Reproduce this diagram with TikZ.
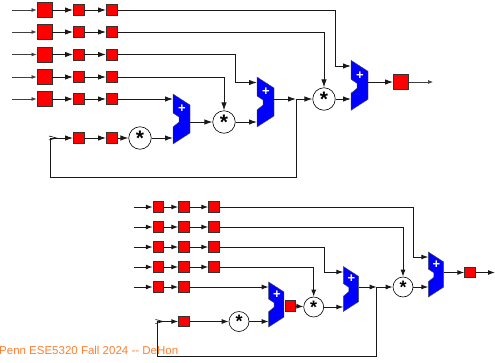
\documentclass[tikz,border=0pt]{standalone}
\usepackage{fontspec}
\setmainfont{Liberation Sans}
\usetikzlibrary{arrows.meta,calc}
\definecolor{penn}{RGB}{255,128,51}
\tikzset{
  x=1pt,y=-1pt,
  bigreg/.style={draw=black!80,line width=0.9pt,fill=red,minimum size=15pt,inner sep=0pt},
  reg/.style={draw=black!80,line width=0.9pt,fill=red,minimum size=11pt,inner sep=0pt},
  sreg/.style={draw=black!80,line width=0.9pt,fill=red,minimum size=10.5pt,inner sep=0pt},
  mult/.style={draw=black,line width=0.6pt,fill=white,circle,minimum size=22.5pt,inner sep=0pt,font=\fontsize{21}{21}\selectfont\bfseries},
  smult/.style={mult,minimum size=20pt,font=\fontsize{18}{18}\selectfont\bfseries},
  addbox/.style={inner sep=0pt,outer sep=0pt},
  wire/.style={draw=black!90,line width=1pt,-{Latex[length=8pt,width=5.5pt]}},
  swire/.style={wire,-{Latex[length=7pt,width=5pt]}},
  thin wire/.style={draw=black!75,line width=0.7pt,-{Latex[length=5pt,width=4pt]}},
  line/.style={draw=black!90,line width=1pt},
  chevron/.style={draw=black,line width=0.6pt},
}
\newcommand{\adder}[4]{% name, cx, cy, scale
  \node[addbox,minimum width=#4*17pt,minimum height=#4*50pt] (#1) at (#2,#3) {};
  \filldraw[shift={(#2,#3)},scale=#4,fill=blue,draw=black!70,line width=0.4pt]
    (-8.5,-25)--(8.5,-14)--(8.5,14)--(-8.5,25)--(-8.5,8)--(-2.5,3)--(-2.5,-2)--(-8.5,-6)--cycle;
  \node[text=white,inner sep=0pt,font=\fontsize{13}{13}\selectfont\bfseries] (#1p) at ($(#2,#3)+(0.5,-10)$) {+};
}
\begin{document}
\begin{tikzpicture}
\useasboundingbox (0,0) rectangle (495,362);
% --- upper circuit
\foreach \n/\y in {1/10,2/32,3/54.5,4/77,5/99}{
  \coordinate (i\n) at (12,\y);
  \node[bigreg] (g\n) at (44.5,\y) {};
  \node[reg] (p\n) at (79,\y) {};
  \node[reg] (q\n) at (112,\y) {};
  \draw[thin wire] (i\n) -- (g\n);
  \draw[wire] (g\n) -- (p\n);
  \draw[wire] (p\n) -- (q\n);
}
\coordinate (fb) at (50.5,138);
\node[reg] (p6) at (79,138) {};
\node[reg] (q6) at (112,138) {};
\node[mult] (m1) at (140,138) {*};
\adder{a1}{181.5}{119}{1}
\node[mult] (m2) at (224,122) {*};
\adder{a2}{265.5}{102}{1}
\coordinate (j1) at (296,99);
\node[mult] (m3) at (324,99) {*};
\adder{a3}{359.5}{85.3}{1}
\node[bigreg] (r1) at (401,82) {};
\coordinate (o1) at (433,82);
\draw[chevron] ($(fb)+(-1.5,-2)$) -- ($(fb)+(6,0)$) -- ($(fb)+(-1.5,2)$);
\draw[wire] (fb) -- (p6);
\draw[wire] (p6) -- (q6);
\draw[wire] (q6) -- (m1);
\draw[wire] (m1) -- (a1.west |- m1);
\draw[wire] (q5) -- (a1.west |- q5);
\draw[wire] (a1.east |- m2) -- (m2);
\draw[wire] (q4) -| (m2);
\draw[wire] (m2) -- (a2.west |- m2);
\draw[wire] (q3) -| (235,82.5) -- (a2.west |- 0,82.5);
\draw[wire] (a2.east |- j1) -- (j1);
\draw[wire] (j1) -- (m3);
\draw[line] (j1) -- (296,177) -- (50.5,177) -- (fb);
\draw[wire] (q2) -| (m3);
\draw[wire] (m3) -- (a3.west |- m3);
\draw[wire] (q1) -| (335,66) -- (a3.west |- 0,66);
\draw[wire] (a3.east |- r1) -- (r1);
\draw[thin wire] (r1) -- (o1);
% --- lower circuit
\foreach \n/\y in {1/207,2/227,3/247,4/267,5/287}{
  \coordinate (si\n) at (134,\y);
  \node[sreg] (sg\n) at (158.5,\y) {};
  \node[sreg] (sp\n) at (184,\y) {};
  \draw[swire] (si\n) -- (sg\n);
  \draw[swire] (sg\n) -- (sp\n);
}
\foreach \n/\y in {1/207,2/227,3/247,4/267}{
  \node[sreg] (sq\n) at (214,\y) {};
  \draw[swire] (sp\n) -- (sq\n);
}
\coordinate (sfb) at (157,321.5);
\node[sreg] (sp6) at (184,321.5) {};
\node[smult] (m4) at (239,321.5) {*};
\adder{a4}{276.3}{304.5}{0.9}
\node[sreg] (r2) at (290.5,306) {};
\node[smult] (m5) at (313.7,307) {*};
\adder{a5}{351}{289}{0.9}
\coordinate (j2) at (376.7,287);
\node[smult] (m6) at (403,287) {*};
\adder{a6}{436}{274.5}{0.9}
\node[sreg] (r3) at (470,272.5) {};
\coordinate (o2) at (495,272.5);
\draw[chevron] ($(sfb)+(-1.5,-2)$) -- ($(sfb)+(6,0)$) -- ($(sfb)+(-1.5,2)$);
\draw[swire] (sfb) -- (sp6);
\draw[swire] (sp6) -- (m4);
\draw[swire] (m4) -- (a4.west |- m4);
\draw[swire] (sp5) -- (a4.west |- sp5);
\draw[swire] (r2) -- (m5);
\draw[swire] (sq4) -| (m5);
\draw[swire] (m5) -- (a5.west |- m5);
\draw[swire] (sq3) -| (324,272) -- (a5.west |- 0,272);
\draw[swire] (a5.east |- j2) -- (j2);
\draw[swire] (j2) -- (m6);
\draw[line] (j2) -- (376.7,356) -- (157,356) -- (sfb);
\draw[swire] (sq2) -| (m6);
\draw[swire] (m6) -- (a6.west |- m6);
\draw[swire] (sq1) -| (413,257) -- (a6.west |- 0,257);
\draw[swire] (a6.east |- r3) -- (r3);
\draw[swire] (r3) -- (o2);
\node[anchor=base west,inner sep=0pt,text=penn,font=\fontsize{11.5}{12}\selectfont] (footer) at (-1,354) {Penn ESE5320 Fall 2024 -{}- DeHon};
\end{tikzpicture}
\end{document}
